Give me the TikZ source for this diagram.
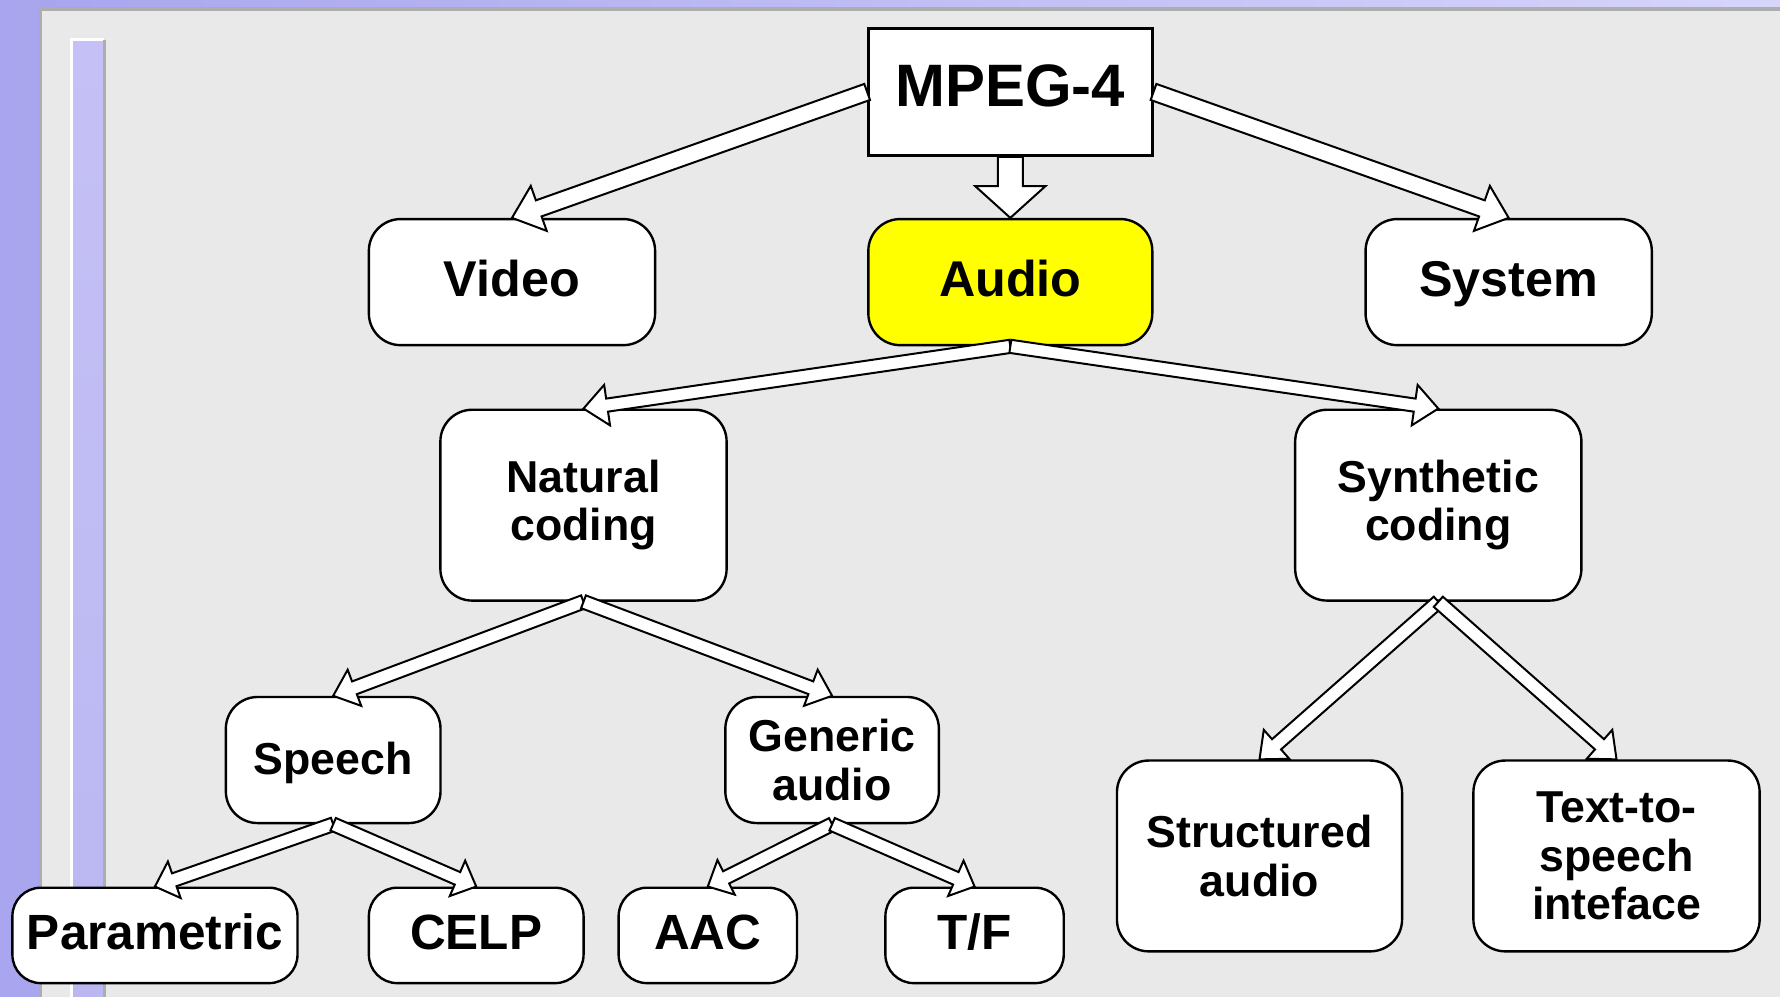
\documentclass[tikz,border=0pt]{standalone}
\usepackage{fontspec}
\setmainfont{Liberation Sans}
\usetikzlibrary{calc}

\definecolor{panelgray}{HTML}{E9E9E9}
\definecolor{lavdark}{HTML}{A9A5EE}
\definecolor{lavlight}{HTML}{D6D5FA}
\definecolor{stripblue}{HTML}{C5C1F6}
\definecolor{edgegray}{HTML}{ADADAD}
\definecolor{hiyellow}{HTML}{FFFF00}

\tikzset{
  box/.style={draw, line width=0.6pt, fill=white, rounded corners=0.28cm,
    align=center, inner sep=0pt},
  oneline/.style={text height=0.73em, text depth=0em},
  topfont/.style={font=\fontsize{12.6}{15}\selectfont\bfseries},
  midfont/.style={font=\fontsize{11.2}{12.1}\selectfont\bfseries},
  lowfont/.style={font=\fontsize{12.4}{15}\selectfont\bfseries},
  harrow/.style={draw, line width=0.5pt, fill=white, line join=miter},
}

% hollow block arrow: start, tip, shaft half width, head half width, head length
\newcommand{\hollowarrow}[5]{%
  \coordinate (hb) at ($(#2)!#5!(#1)$);
  \draw[harrow] ($(#1)!#3!90:(#2)$) -- ($(hb)!#3!90:(#2)$)
    -- ($(hb)!#4!90:(#2)$) -- (#2) -- ($(hb)!#4!-90:(#2)$)
    -- ($(hb)!#3!-90:(#2)$) -- ($(#1)!#3!-90:(#2)$) -- cycle;}

\begin{document}
\begin{tikzpicture}[x=0.01cm, y=-0.01cm]
\useasboundingbox (0,0) rectangle (1568,878);
% Sfondo
\fill[left color=lavdark, right color=lavlight] (0,0) rectangle (1568,878);
\fill[panelgray] (36,8) rectangle (1568,878);
\draw[edgegray, line width=0.8pt] (36,878) -- (36,8) -- (1568,8);
\fill[top color=stripblue, bottom color=lavdark!80!white] (63,35) rectangle (92,878);
\draw[white, line width=0.8pt] (63,878) -- (63,35) -- (92,35);
\draw[edgegray, line width=0.8pt] (92,35) -- (92,878);

% Nodi
\node[box, oneline, sharp corners, minimum width=2.5cm, minimum height=1.12cm,
  font=\fontsize{15}{18}\selectfont\bfseries] (mpeg) at (890,81) {MPEG-4};
\node[box, oneline, topfont, minimum width=2.52cm, minimum height=1.11cm] (video) at (451,248.5) {Video};
\node[box, oneline, topfont, fill=hiyellow, minimum width=2.5cm, minimum height=1.11cm] (audio) at (890,248.5) {Audio};
\node[box, oneline, topfont, minimum width=2.52cm, minimum height=1.11cm] (system) at (1329,248.5) {System};

\node[box, midfont, minimum width=2.52cm, minimum height=1.68cm] (natural) at (514,445) {Natural\\coding};
\node[box, midfont, minimum width=2.52cm, minimum height=1.68cm] (synthetic) at (1267,445) {Synthetic\\coding};

\node[box, oneline, midfont, minimum width=1.89cm, minimum height=1.11cm] (speech) at (293.5,669.5) {Speech};
\node[box, midfont, minimum width=1.88cm, minimum height=1.11cm] (generic) at (733,669.5) {Generic\\audio};
\node[box, midfont, minimum width=2.51cm, minimum height=1.68cm] (structured) at (1109.5,754) {Structured\\audio};
\node[box, midfont, minimum width=2.52cm, minimum height=1.68cm] (tts) at (1424,754) {Text-to-\\speech\\inteface};

\node[box, oneline, lowfont, rounded corners=0.25cm, minimum width=2.51cm, minimum height=0.84cm] (parametric) at (136.5,824) {Parametric};
\node[box, oneline, lowfont, rounded corners=0.25cm, minimum width=1.89cm, minimum height=0.84cm] (celp) at (419.5,824) {CELP};
\node[box, oneline, lowfont, rounded corners=0.25cm, minimum width=1.57cm, minimum height=0.84cm] (aac) at (623.5,824) {AAC};
\node[box, oneline, lowfont, rounded corners=0.25cm, minimum width=1.57cm, minimum height=0.84cm] (tf) at (858.5,824) {T/F};

% Frecce
\hollowarrow{mpeg.west}{video.north}{0.075cm}{0.21cm}{0.25cm}
\hollowarrow{mpeg.east}{system.north}{0.075cm}{0.21cm}{0.25cm}
\hollowarrow{mpeg.south}{audio.north}{0.11cm}{0.31cm}{0.28cm}
\hollowarrow{audio.south}{natural.north}{0.058cm}{0.18cm}{0.21cm}
\hollowarrow{audio.south}{synthetic.north}{0.058cm}{0.18cm}{0.21cm}
\hollowarrow{natural.south}{speech.north}{0.06cm}{0.17cm}{0.2cm}
\hollowarrow{natural.south}{generic.north}{0.06cm}{0.17cm}{0.2cm}
\hollowarrow{synthetic.south}{structured.north}{0.06cm}{0.17cm}{0.2cm}
\hollowarrow{synthetic.south}{tts.north}{0.06cm}{0.17cm}{0.2cm}
\hollowarrow{speech.south}{parametric.north}{0.06cm}{0.17cm}{0.18cm}
\hollowarrow{speech.south}{celp.north}{0.06cm}{0.17cm}{0.18cm}
\hollowarrow{generic.south}{aac.north}{0.06cm}{0.17cm}{0.18cm}
\hollowarrow{generic.south}{tf.north}{0.06cm}{0.17cm}{0.18cm}
\end{tikzpicture}
\end{document}
